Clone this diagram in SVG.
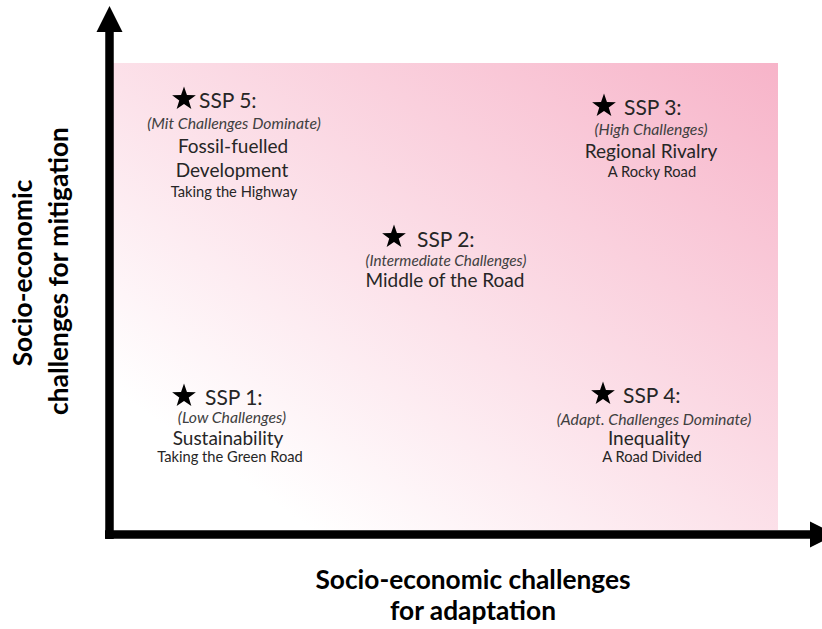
<svg xmlns="http://www.w3.org/2000/svg" width="822" height="629" viewBox="0 0 822 629">
<defs>
<linearGradient id="bg" x1="0" y1="1" x2="1" y2="0">
<stop offset="0" stop-color="#ffffff"/>
<stop offset="0.15" stop-color="#ffffff"/>
<stop offset="1" stop-color="#f7b4c9"/>
</linearGradient>
<symbol id="star" viewBox="-13 -13 26 26" overflow="visible">
<polygon points="0,-12.5 2.94,-4.05 11.89,-3.86 4.76,1.55 7.35,10.11 0,5 -7.35,10.11 -4.76,1.55 -11.89,-3.86 -2.94,-4.05" fill="#000"/>
</symbol>
</defs>
<style>
.t{font-family:Lato,"Liberation Sans",sans-serif;fill:#262626;text-anchor:middle}
.h{font-size:21px;text-anchor:start}
.i{font-size:15.8px;font-style:italic;fill:#404040}
.n{font-size:19px}
.s{font-size:14.7px}
.ax{font-family:Lato,"Liberation Sans",sans-serif;font-weight:bold;font-size:26.3px;fill:#000;text-anchor:middle}
</style>
<rect x="113" y="63" width="665" height="467" fill="url(#bg)"/>
<g id="connectors">
<path d="M109.5,539 V32" stroke="#000" stroke-width="8.5" fill="none"/>
<polygon points="96.5,32 122.5,32 109.5,6" fill="#000"/>
<path d="M105,534.5 H810" stroke="#000" stroke-width="8.5" fill="none"/>
<polygon points="810,521.5 810,547.5 836,534.5" fill="#000"/>
</g>
<g id="ssp5">
<use href="#star" x="171" y="86" width="26" height="26"/>
<text class="t h" x="199" y="108">SSP 5:</text>
<text class="t i" x="234" y="129">(Mit Challenges Dominate)</text>
<text class="t n" x="233" y="153">Fossil-fuelled</text>
<text class="t n" x="232" y="177">Development</text>
<text class="t s" x="234" y="197">Taking the Highway</text>
</g>
<g id="ssp3">
<use href="#star" x="591" y="93" width="26" height="26"/>
<text class="t h" x="624" y="115">SSP 3:</text>
<text class="t i" x="651" y="135">(High Challenges)</text>
<text class="t n" x="651" y="158">Regional Rivalry</text>
<text class="t s" x="652" y="177">A Rocky Road</text>
</g>
<g id="ssp2">
<use href="#star" x="381" y="224" width="26" height="26"/>
<text class="t h" x="417" y="247">SSP 2:</text>
<text class="t i" x="446" y="266" style="font-size:15.3px">(Intermediate Challenges)</text>
<text class="t n" x="445" y="287">Middle of the Road</text>
</g>
<g id="ssp1">
<use href="#star" x="171" y="383" width="26" height="26"/>
<text class="t h" x="205" y="405">SSP 1:</text>
<text class="t i" x="232" y="423">(Low Challenges)</text>
<text class="t n" x="228" y="445">Sustainability</text>
<text class="t s" x="230" y="462">Taking the Green Road</text>
</g>
<g id="ssp4">
<use href="#star" x="590" y="381" width="26" height="26"/>
<text class="t h" x="623" y="403">SSP 4:</text>
<text class="t i" x="654" y="425">(Adapt. Challenges Dominate)</text>
<text class="t n" x="649" y="445">Inequality</text>
<text class="t s" x="652" y="462">A Road Divided</text>
</g>
<g id="y-label">
<text class="ax" transform="translate(32,273) rotate(-90)">Socio-economic</text>
<text class="ax" transform="translate(68,271) rotate(-90)">challenges for mitigation</text>
</g>
<g id="x-label">
<text class="ax" x="473" y="589">Socio-economic challenges</text>
<text class="ax" x="473" y="620">for adaptation</text>
</g>
</svg>
